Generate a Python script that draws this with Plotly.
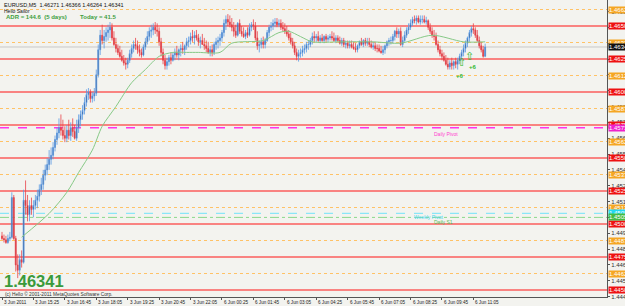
import plotly.graph_objects as go

# ---------------- data (EURUSD M5, bar index 0 = 3 Jun 14:05) ----------------
bar = list(range(247))
open_ = [1.4491,1.4489,1.4488,1.4486,1.4489,1.4490,1.4520,1.4489,1.4469,1.4465,
 1.4473,1.4471,1.4518,1.4514,1.4507,1.4514,1.4511,1.4514,1.4518,1.4521,
 1.4526,1.4530,1.4537,1.4541,1.4545,1.4549,1.4552,1.4558,1.4564,1.4569,
 1.4573,1.4571,1.4567,1.4565,1.4571,1.4567,1.4573,1.4570,1.4565,1.4573,
 1.4579,1.4583,1.4586,1.4592,1.4598,1.4600,1.4595,1.4597,1.4599,1.4613,
 1.4632,1.4643,1.4639,1.4642,1.4645,1.4647,1.4649,1.4641,1.4636,1.4633,
 1.4630,1.4627,1.4624,1.4622,1.4621,1.4624,1.4629,1.4633,1.4636,1.4635,
 1.4632,1.4630,1.4628,1.4634,1.4638,1.4642,1.4646,1.4647,1.4649,1.4647,
 1.4646,1.4638,1.4630,1.4624,1.4620,1.4623,1.4626,1.4624,1.4628,1.4630,
 1.4628,1.4632,1.4633,1.4632,1.4635,1.4638,1.4639,1.4642,1.4641,1.4643,
 1.4641,1.4638,1.4639,1.4636,1.4635,1.4633,1.4630,1.4632,1.4630,1.4636,
 1.4638,1.4639,1.4641,1.4645,1.4652,1.4655,1.4653,1.4651,1.4649,1.4646,
 1.4643,1.4652,1.4646,1.4644,1.4642,1.4645,1.4643,1.4649,1.4651,1.4650,
 1.4641,1.4635,1.4636,1.4638,1.4636,1.4639,1.4645,1.4649,1.4650,1.4652,
 1.4653,1.4651,1.4652,1.4649,1.4648,1.4646,1.4644,1.4641,1.4638,1.4635,
 1.4630,1.4627,1.4629,1.4630,1.4632,1.4633,1.4636,1.4636,1.4639,1.4642,
 1.4641,1.4642,1.4639,1.4641,1.4639,1.4642,1.4640,1.4641,1.4642,1.4641,
 1.4639,1.4641,1.4639,1.4637,1.4639,1.4636,1.4637,1.4635,1.4636,1.4634,
 1.4633,1.4632,1.4635,1.4638,1.4636,1.4639,1.4637,1.4638,1.4636,1.4634,
 1.4635,1.4633,1.4633,1.4631,1.4630,1.4632,1.4635,1.4638,1.4639,1.4639,
 1.4642,1.4646,1.4644,1.4646,1.4636,1.4639,1.4643,1.4647,1.4649,1.4652,
 1.4655,1.4654,1.4656,1.4653,1.4655,1.4655,1.4653,1.4654,1.4649,1.4646,
 1.4643,1.4642,1.4636,1.4632,1.4629,1.4627,1.4624,1.4621,1.4619,1.4622,
 1.4620,1.4623,1.4621,1.4624,1.4627,1.4630,1.4633,1.4637,1.4641,1.4645,
 1.4648,1.4647,1.4643,1.4639,1.4635,1.4632,1.46271]
high = [1.4494,1.4492,1.4491,1.4492,1.4494,1.4524,1.4522,1.4491,1.4477,1.4477,
 1.4480,1.4526,1.4533,1.4522,1.4518,1.4520,1.4518,1.4522,1.4526,1.4530,
 1.4535,1.4541,1.4545,1.4550,1.4556,1.4558,1.4562,1.4567,1.4573,1.4580,
 1.4583,1.4579,1.4574,1.4575,1.4579,1.4577,1.4580,1.4575,1.4579,1.4583,
 1.4586,1.4590,1.4596,1.4602,1.4603,1.4602,1.4600,1.4603,1.4617,1.4636,
 1.4647,1.4651,1.4647,1.4649,1.4651,1.4653,1.4652,1.4646,1.4641,1.4636,
 1.4635,1.4632,1.4628,1.4626,1.4626,1.4632,1.4636,1.4639,1.4641,1.4639,
 1.4636,1.4633,1.4636,1.4641,1.4646,1.4649,1.4651,1.4652,1.4653,1.4652,
 1.4649,1.4641,1.4633,1.4628,1.4626,1.4628,1.4630,1.4630,1.4633,1.4635,
 1.4633,1.4636,1.4638,1.4636,1.4641,1.4642,1.4645,1.4647,1.4646,1.4647,
 1.4644,1.4642,1.4644,1.4641,1.4639,1.4638,1.4635,1.4636,1.4638,1.4641,
 1.4642,1.4644,1.4647,1.4655,1.4658,1.4659,1.4658,1.4656,1.4653,1.4651,
 1.4653,1.4655,1.4650,1.4649,1.4647,1.4649,1.4652,1.4653,1.4655,1.4653,
 1.4646,1.4639,1.4641,1.4642,1.4641,1.4647,1.4651,1.4653,1.4655,1.4656,
 1.4656,1.4655,1.4655,1.4653,1.4652,1.4650,1.4647,1.4645,1.4641,1.4638,
 1.4633,1.4632,1.4633,1.4635,1.4636,1.4638,1.4639,1.4641,1.4645,1.4646,
 1.4644,1.4646,1.4643,1.4644,1.4643,1.4644,1.4643,1.4644,1.4646,1.4645,
 1.4643,1.4643,1.4642,1.4641,1.4641,1.4639,1.4639,1.4639,1.4639,1.4638,
 1.4637,1.4636,1.4639,1.4641,1.4640,1.4641,1.4641,1.4641,1.4639,1.4638,
 1.4638,1.4636,1.4636,1.4635,1.4635,1.4636,1.4639,1.4641,1.4642,1.4644,
 1.4647,1.4649,1.4648,1.4649,1.4642,1.4646,1.4649,1.4652,1.4655,1.4657,
 1.4658,1.4658,1.4658,1.4658,1.4658,1.4658,1.4657,1.4655,1.4652,1.4649,
 1.4647,1.4645,1.4639,1.4635,1.4632,1.4630,1.4628,1.4626,1.4624,1.4626,
 1.4624,1.4626,1.4626,1.4629,1.4632,1.4636,1.4639,1.4642,1.4647,1.4650,
 1.4652,1.4649,1.4647,1.4642,1.4638,1.4635,1.46366]
low = [1.4488,1.4486,1.4485,1.4485,1.4487,1.4489,1.4488,1.4464,1.4459,1.4461,
 1.4467,1.4470,1.4507,1.4502,1.4502,1.4507,1.4505,1.4511,1.4512,1.4517,
 1.4522,1.4526,1.4533,1.4537,1.4541,1.4545,1.4549,1.4555,1.4560,1.4565,
 1.4567,1.4564,1.4562,1.4562,1.4564,1.4563,1.4566,1.4564,1.4563,1.4569,
 1.4574,1.4579,1.4583,1.4589,1.4594,1.4592,1.4592,1.4593,1.4597,1.4611,
 1.4628,1.4636,1.4633,1.4638,1.4639,1.4641,1.4639,1.4635,1.4630,1.4628,
 1.4626,1.4623,1.4620,1.4617,1.4618,1.4622,1.4626,1.4630,1.4632,1.4629,
 1.4627,1.4626,1.4627,1.4632,1.4636,1.4639,1.4641,1.4643,1.4644,1.4642,
 1.4635,1.4627,1.4621,1.4617,1.4617,1.4620,1.4621,1.4623,1.4624,1.4626,
 1.4624,1.4627,1.4629,1.4628,1.4632,1.4634,1.4636,1.4638,1.4636,1.4639,
 1.4635,1.4633,1.4636,1.4632,1.4630,1.4629,1.4627,1.4627,1.4628,1.4632,
 1.4633,1.4635,1.4638,1.4642,1.4647,1.4650,1.4649,1.4646,1.4642,1.4641,
 1.4642,1.4644,1.4642,1.4641,1.4640,1.4641,1.4642,1.4646,1.4647,1.4639,
 1.4632,1.4630,1.4633,1.4633,1.4633,1.4638,1.4642,1.4646,1.4647,1.4649,
 1.4649,1.4649,1.4647,1.4646,1.4644,1.4642,1.4639,1.4636,1.4633,1.4628,
 1.4624,1.4623,1.4626,1.4627,1.4629,1.4630,1.4632,1.4634,1.4636,1.4638,
 1.4638,1.4638,1.4637,1.4638,1.4637,1.4638,1.4638,1.4639,1.4639,1.4638,
 1.4637,1.4638,1.4636,1.4635,1.4634,1.4633,1.4633,1.4633,1.4633,1.4632,
 1.4630,1.4630,1.4633,1.4635,1.4634,1.4635,1.4635,1.4634,1.4633,1.4632,
 1.4631,1.4630,1.4630,1.4629,1.4628,1.4629,1.4633,1.4635,1.4636,1.4637,
 1.4639,1.4641,1.4641,1.4635,1.4634,1.4638,1.4641,1.4644,1.4647,1.4650,
 1.4652,1.4651,1.4652,1.4651,1.4652,1.4652,1.4651,1.4647,1.4644,1.4641,
 1.4639,1.4635,1.4630,1.4627,1.4624,1.4623,1.4620,1.4617,1.4617,1.4617,
 1.4617,1.4618,1.4617,1.4621,1.4624,1.4627,1.4630,1.4634,1.4638,1.4642,
 1.4644,1.4641,1.4638,1.4633,1.4630,1.4626,1.46264]
close = [1.4489,1.4488,1.4486,1.4489,1.4490,1.4520,1.4489,1.4469,1.4465,1.4473,
 1.4471,1.4518,1.4514,1.4507,1.4514,1.4511,1.4514,1.4518,1.4521,1.4526,
 1.4530,1.4537,1.4541,1.4545,1.4549,1.4552,1.4558,1.4564,1.4569,1.4573,
 1.4571,1.4567,1.4565,1.4571,1.4567,1.4573,1.4570,1.4565,1.4573,1.4579,
 1.4583,1.4586,1.4592,1.4598,1.4600,1.4595,1.4597,1.4599,1.4613,1.4632,
 1.4643,1.4639,1.4642,1.4645,1.4647,1.4649,1.4641,1.4636,1.4633,1.4630,
 1.4627,1.4624,1.4622,1.4621,1.4624,1.4629,1.4633,1.4636,1.4635,1.4632,
 1.4630,1.4628,1.4634,1.4638,1.4642,1.4646,1.4647,1.4649,1.4647,1.4646,
 1.4638,1.4630,1.4624,1.4620,1.4623,1.4626,1.4624,1.4628,1.4630,1.4628,
 1.4632,1.4633,1.4632,1.4635,1.4638,1.4639,1.4642,1.4641,1.4643,1.4641,
 1.4638,1.4639,1.4636,1.4635,1.4633,1.4630,1.4632,1.4630,1.4636,1.4638,
 1.4639,1.4641,1.4645,1.4652,1.4655,1.4653,1.4651,1.4649,1.4646,1.4643,
 1.4652,1.4646,1.4644,1.4642,1.4645,1.4643,1.4649,1.4651,1.4650,1.4641,
 1.4635,1.4636,1.4638,1.4636,1.4639,1.4645,1.4649,1.4650,1.4652,1.4653,
 1.4651,1.4652,1.4649,1.4648,1.4646,1.4644,1.4641,1.4638,1.4635,1.4630,
 1.4627,1.4629,1.4630,1.4632,1.4633,1.4636,1.4636,1.4639,1.4642,1.4641,
 1.4642,1.4639,1.4641,1.4639,1.4642,1.4640,1.4641,1.4642,1.4641,1.4639,
 1.4641,1.4639,1.4637,1.4639,1.4636,1.4637,1.4635,1.4636,1.4634,1.4633,
 1.4632,1.4635,1.4638,1.4636,1.4639,1.4637,1.4638,1.4636,1.4634,1.4635,
 1.4633,1.4633,1.4631,1.4630,1.4632,1.4635,1.4638,1.4639,1.4639,1.4642,
 1.4646,1.4644,1.4646,1.4636,1.4639,1.4643,1.4647,1.4649,1.4652,1.4655,
 1.4654,1.4656,1.4653,1.4655,1.4655,1.4653,1.4654,1.4649,1.4646,1.4643,
 1.4642,1.4636,1.4632,1.4629,1.4627,1.4624,1.4621,1.4619,1.4622,1.4620,
 1.4623,1.4621,1.4624,1.4627,1.4630,1.4633,1.4637,1.4641,1.4645,1.4648,
 1.4647,1.4643,1.4639,1.4635,1.4632,1.4627,1.46341]

ma_bar = [10,24,33,39,46,51,58,66,73,80,87,94,100,111,117,133,141,146,152,158,172,189,203,219,235,246]
ma_val = [1.4490,1.4508,1.4524,1.4539,1.4556,1.4574,1.4589,1.4607,1.4617,1.4627,1.4630,1.4630,1.4630,
          1.4630,1.4637,1.4639,1.4645,1.4646,1.4642,1.4638,1.4638,1.4638,1.4637,1.4643,1.4638,1.4638]

red_levels = [1.4450, 1.4475, 1.4500, 1.4525, 1.4550, 1.4575, 1.4600, 1.4625, 1.4650]
orange_levels = [1.44625, 1.44875, 1.45125, 1.45375, 1.45625, 1.45875, 1.46125, 1.46375, 1.46625]
daily_pivot = 1.4573
weekly_pivot = 1.4508
daily_s1 = 1.4505
bid = 1.46341

tick_prices = [1.44450, 1.44570, 1.44690, 1.44810, 1.44930, 1.45050, 1.45170, 1.45290, 1.45410, 1.45530,
               1.45650, 1.45770, 1.45890, 1.46010, 1.46130, 1.46250, 1.46370, 1.46490, 1.46610]
time_bars = [0, 16, 32, 48, 64, 80, 96, 112, 128, 144, 160, 176, 192, 208, 224, 240]
time_text = ["3 Jun 2011", "3 Jun 15:25", "3 Jun 16:45", "3 Jun 18:05", "3 Jun 19:25", "3 Jun 20:45",
             "3 Jun 22:05", "6 Jun 00:25", "6 Jun 01:45", "6 Jun 03:05", "6 Jun 04:25", "6 Jun 05:45",
             "6 Jun 07:05", "6 Jun 08:25", "6 Jun 09:45", "6 Jun 11:05"]

signal_bars = [234, 238]
signal_prices = [1.4622, 1.4627]
plus_bars = [240, 233]
plus_prices = [1.4619, 1.4612]
plus_text = ["+6", "+6"]

# ---------------- figure ----------------
W, H = 625, 306
ML, MR, MT, MB = 0, 18, 0, 9
PW, PH = W - ML - MR, H - MT - MB
FONT = "Liberation Sans"
BG = "#f3f3ef"

fig = go.Figure()

fig.add_trace(go.Candlestick(
    x=bar, open=open_, high=high, low=low, close=close,
    increasing=dict(line=dict(color="#5b9ae4", width=0.8), fillcolor="#1d3260"),
    decreasing=dict(line=dict(color="#e8434a", width=0.8), fillcolor="#b8232b"),
    whiskerwidth=0, showlegend=False, hoverinfo="skip"))

fig.add_trace(go.Scatter(x=ma_bar, y=ma_val, mode="lines",
                         line=dict(color="#86c986", width=1, shape="spline", smoothing=0.8),
                         showlegend=False, hoverinfo="skip"))

shapes = []
for v in orange_levels:
    shapes.append(dict(type="line", xref="paper", x0=0, x1=1, yref="y", y0=v, y1=v,
                       line=dict(color="#ffc266", width=1.1, dash="dot"), layer="below"))
for v in red_levels:
    shapes.append(dict(type="line", xref="paper", x0=0, x1=1, yref="y", y0=v, y1=v,
                       line=dict(color="#ff1414", width=1.2), layer="below"))
shapes.append(dict(type="line", xref="paper", x0=0, x1=1, yref="y", y0=daily_pivot, y1=daily_pivot,
                   line=dict(color="#ff33ee", width=1.5, dash="dash"), layer="below"))
shapes.append(dict(type="line", xref="paper", x0=0, x1=1, yref="y", y0=weekly_pivot, y1=weekly_pivot,
                   line=dict(color="#8ae6f7", width=1.2, dash="dash"), layer="below"))
shapes.append(dict(type="line", xref="paper", x0=0, x1=1, yref="y", y0=daily_s1, y1=daily_s1,
                   line=dict(color="#8ad88a", width=1, dash="dashdot"), layer="below"))
shapes.append(dict(type="line", xref="paper", x0=0, x1=1, yref="y", y0=bid, y1=bid,
                   line=dict(color="#c8c8c8", width=1), layer="below"))

ann = []
def px(xp):
    return (xp - ML) / PW
def py(yp):
    return 1 - (yp - MT) / PH

# header texts
ann.append(dict(xref="paper", yref="paper", x=px(2), y=py(5), xanchor="left", yanchor="middle",
                text="EURUSD,M5  1.46271 1.46366 1.46264 1.46341", showarrow=False,
                font=dict(family=FONT, size=5.5, color="#111")))
ann.append(dict(xref="paper", yref="paper", x=px(2), y=py(10.5), xanchor="left", yanchor="middle",
                text="Hello Sailor", showarrow=False, font=dict(family=FONT, size=5, color="#111")))
ann.append(dict(xref="paper", yref="paper", x=px(4), y=py(16.5), xanchor="left", yanchor="middle",
                text="<b>ADR = 144.6  (5 days)</b>", showarrow=False,
                font=dict(family=FONT, size=6, color="#3e9e3e")))
ann.append(dict(xref="paper", yref="paper", x=px(78), y=py(16.5), xanchor="left", yanchor="middle",
                text="<b>Today = 41.5</b>", showarrow=False,
                font=dict(family=FONT, size=6, color="#3e9e3e")))
# big price
ann.append(dict(xref="paper", yref="paper", x=px(2), y=py(281), xanchor="left", yanchor="middle",
                text="<b>1.46341</b>", showarrow=False,
                font=dict(family=FONT, size=16.5, color="#3a9a3a")))
ann.append(dict(xref="paper", yref="paper", x=px(3), y=py(293.5), xanchor="left", yanchor="middle",
                text="(c) Hello © 2001-2011 MetaQuotes Software Corp.", showarrow=False,
                font=dict(family=FONT, size=4.8, color="#333")))

# pivot texts
ann.append(dict(x=219, y=daily_pivot, xanchor="left", yanchor="top", yshift=-1,
                text="Daily Pivot", showarrow=False, font=dict(family=FONT, size=5, color="#ff3fd0")))
ann.append(dict(x=209, y=weekly_pivot, xanchor="left", yanchor="top", yshift=1,
                text="Weekly Pivot", showarrow=False, font=dict(family=FONT, size=5, color="#45d8f0")))
ann.append(dict(x=219, y=daily_s1, xanchor="left", yanchor="top", yshift=0,
                text="Daily S1", showarrow=False, font=dict(family=FONT, size=5, color="#55bb55")))

# signals
for b, p in zip(signal_bars, signal_prices):
    ann.append(dict(x=b, y=p, text="⇧", showarrow=False,
                    font=dict(family="DejaVu Sans", size=11, color="#2eb82e")))
for b, p, t in zip(plus_bars, plus_prices, plus_text):
    ann.append(dict(x=b, y=p, text="<b>" + t + "</b>", showarrow=False,
                    font=dict(family=FONT, size=6, color="#2eb82e")))

# time labels
for b, t in zip(time_bars, time_text):
    ann.append(dict(x=b, xref="x", y=0, yref="paper", xanchor="left", yanchor="top", yshift=-1,
                    xshift=0, text=t, showarrow=False, font=dict(family=FONT, size=4.6, color="#222")))

# right axis coloured labels
def right_label(v, bg, fg="#ffffff"):
    ann.append(dict(xref="paper", x=1, xanchor="left", xshift=1, y=v, yref="y", yanchor="middle",
                    text="%.5f" % v, showarrow=False, bgcolor=bg, borderpad=0,
                    font=dict(family=FONT, size=6, color=fg)))
for v in orange_levels:
    right_label(v, "#f5a623")
for v in red_levels:
    right_label(v, "#ee1111")
right_label(daily_pivot, "#ee22cc")
right_label(weekly_pivot, "#22d8f0")
right_label(daily_s1, "#44bb44")
right_label(bid, "#111111")

fig.update_layout(
    width=W, height=H, margin=dict(l=ML, r=MR, t=MT, b=MB, autoexpand=False),
    paper_bgcolor=BG, plot_bgcolor=BG,
    shapes=shapes, annotations=ann, showlegend=False,
    xaxis=dict(range=[-1.02, 308.04], rangeslider=dict(visible=False), showgrid=False, zeroline=False,
               showline=True, linecolor="#555", linewidth=1, tickvals=time_bars, ticks="outside",
               ticklen=2, tickcolor="#555", showticklabels=False, fixedrange=True),
    yaxis=dict(range=[1.44447, 1.46697], side="right", showgrid=False, zeroline=False, showline=True,
               linecolor="#555", linewidth=1, tickvals=tick_prices,
               ticktext=["%.5f" % v for v in tick_prices], ticks="outside", ticklen=2, tickcolor="#555",
               tickfont=dict(family=FONT, size=6, color="#333"), fixedrange=True),
)

fig.write_html("out.html")
